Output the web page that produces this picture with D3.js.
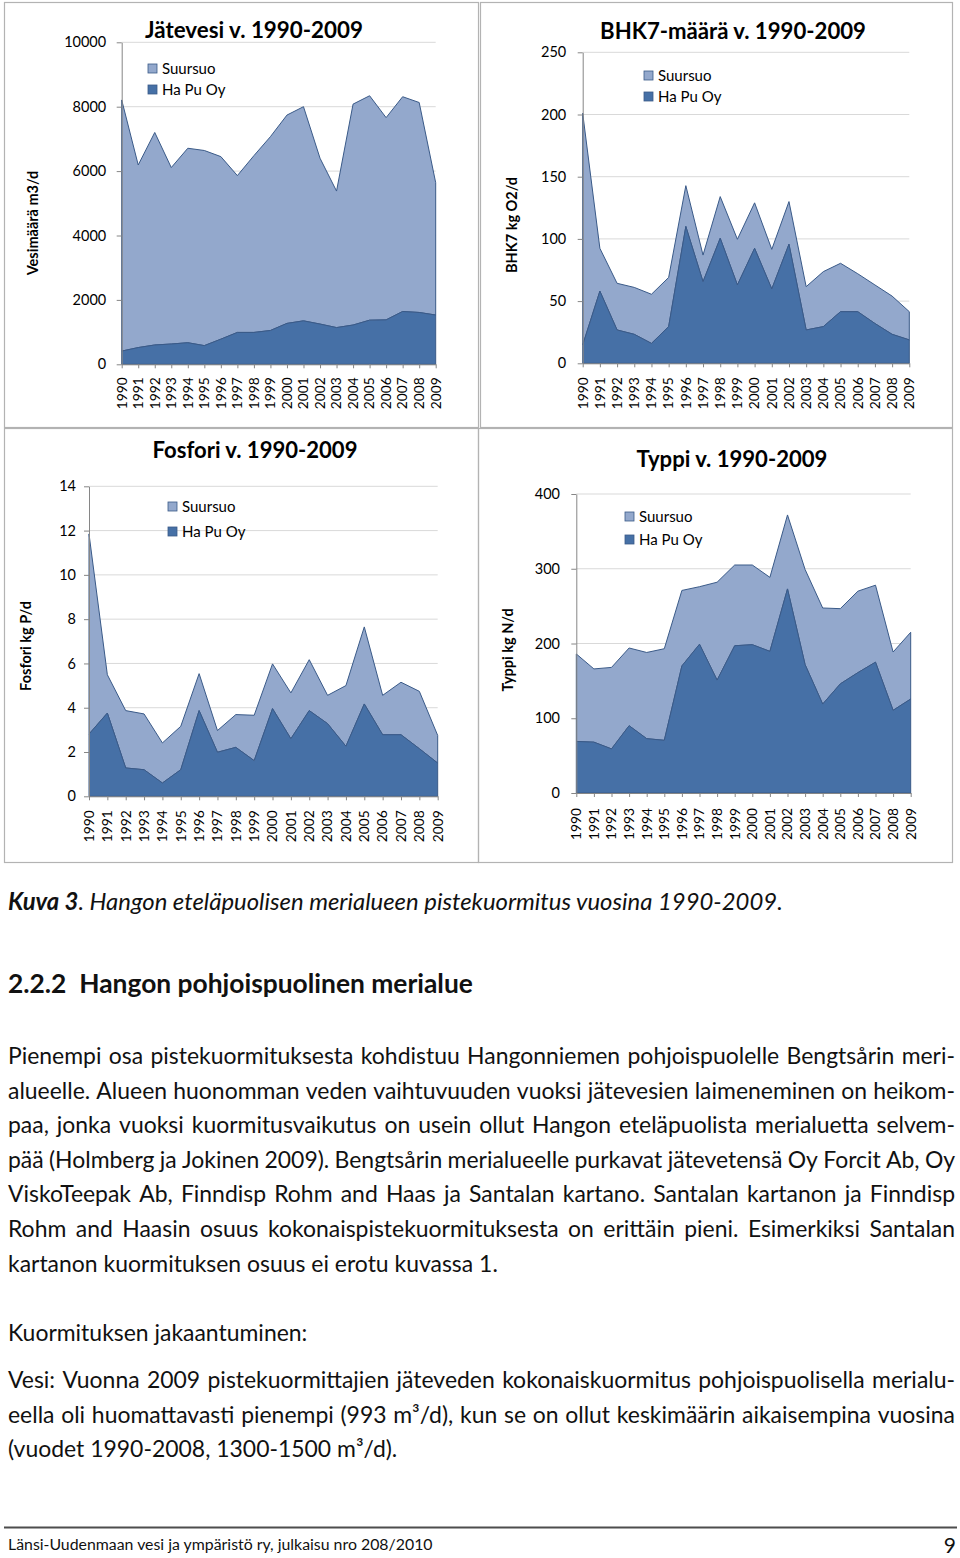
<!DOCTYPE html>
<html><head><meta charset="utf-8">
<script src="https://cdn.jsdelivr.net/npm/d3@7"></script>
<style>
body{margin:0;background:#fff}
svg{display:block}
text{font-family:Lato,"Open Sans",sans-serif}
</style>
</head><body>
<svg id="page" width="960" height="1558"></svg>
<script>
// ---------- DATA ----------
const years = ["1990","1991","1992","1993","1994","1995","1996","1997","1998","1999",
               "2000","2001","2002","2003","2004","2005","2006","2007","2008","2009"];
const seriesNames = ["Suursuo", "Ha Pu Oy"];

// Jätevesi m3/d
const waterHaPu    = [410,520,600,630,670,580,780,990,990,1050,1270,1350,1250,1140,1220,1370,1380,1640,1610,1530];
const waterSuursuo = [7800,5670,6600,5480,6040,6060,5670,4870,5490,6020,6470,6650,5150,4240,6860,6970,6280,6670,6520,4110];
const waterTicks   = [0,2000,4000,6000,8000,10000];

// BHK7 kg O2/d
const bodHaPu    = [14.7,58,26.8,23.3,16,29.5,110,65.6,100.5,63,92.4,59.8,95.7,26.8,29.5,41.5,41.5,32,23.3,18.8];
const bodSuursuo = [186.3,34.4,37.5,37.7,39.5,39.5,32.8,21.4,33.5,36.7,36.6,31.8,34.3,34.8,44.2,38.9,30.5,31,30.7,22.7];
const bodTicks   = [0,50,100,150,200,250];

// Fosfori kg P/d
const phosHaPu    = [2.81,3.76,1.28,1.2,0.6,1.2,3.87,1.99,2.21,1.61,3.96,2.6,3.87,3.28,2.26,4.17,2.78,2.78,2.15,1.5];
const phosSuursuo = [9.04,1.73,2.59,2.52,1.81,1.96,1.67,0.98,1.48,2.05,2.02,2.07,2.30,1.28,2.74,3.48,1.78,2.37,2.59,1.25];
const phosTicks   = [0,2,4,6,8,10,12,14];

// Typpi kg N/d
const nitHaPu    = [69,68,59,90,72.7,70.5,170,199,151,197,198.4,189.5,273,171.7,119,146,161,175,110.6,125.7];
const nitSuursuo = [117,98,109,104,115.3,122.5,101,77,131,108,106.6,99,99,127.3,128.5,100.6,109,103,78,89.3];
const nitTicks   = [0,100,200,300,400];

const titles  = ["Jätevesi v. 1990-2009","BHK7-määrä v. 1990-2009","Fosfori v. 1990-2009","Typpi v. 1990-2009"];
const yLabels = ["Vesimäärä m3/d","BHK7 kg O2/d","Fosfori kg P/d","Typpi kg N/d"];

const caption = ["Kuva 3", ". Hangon eteläpuolisen merialueen pistekuormitus vuosina 1990-2009."];
const heading = "2.2.2  Hangon pohjoispuolinen merialue";
const para1 = [
 "Pienempi osa pistekuormituksesta kohdistuu Hangonniemen pohjoispuolelle Bengtsårin meri-",
 "alueelle. Alueen huonomman veden vaihtuvuuden vuoksi jätevesien laimeneminen on heikom-",
 "paa, jonka vuoksi kuormitusvaikutus on usein ollut Hangon eteläpuolista merialuetta selvem-",
 "pää (Holmberg ja Jokinen 2009). Bengtsårin merialueelle purkavat jätevetensä Oy Forcit Ab, Oy",
 "ViskoTeepak Ab, Finndisp Rohm and Haas ja Santalan kartano. Santalan kartanon ja Finndisp",
 "Rohm and Haasin osuus kokonaispistekuormituksesta on erittäin pieni. Esimerkiksi Santalan",
 "kartanon kuormituksen osuus ei erotu kuvassa 1."
];
const subHead = "Kuormituksen jakaantuminen:";
const para2 = [
 "Vesi: Vuonna 2009 pistekuormittajien jäteveden kokonaiskuormitus pohjoispuolisella merialu-",
 "eella oli huomattavasti pienempi (993 m³/d), kun se on ollut keskimäärin aikaisempina vuosina",
 "(vuodet 1990-2008, 1300-1500 m³/d)."
];
const footer = "Länsi-Uudenmaan vesi ja ympäristö ry, julkaisu nro 208/2010";
const pageNo = "9";

// ---------- LAYOUT ----------
const COL_LIGHT = "#93a8cc", COL_DARK = "#4670a6", COL_EDGE = "#3a5a88";
const svg = d3.select("#page");
svg.append("rect").attr("width",960).attr("height",1558).attr("fill","#fff");

const frames = [
  {x:4.5,y:2.5,w:474,h:425},
  {x:480.5,y:2.5,w:472,h:425},
  {x:4.5,y:428.5,w:474,h:434},
  {x:478.5,y:428.5,w:474,h:434}
];
frames.forEach(f => svg.append("rect").attr("x",f.x).attr("y",f.y).attr("width",f.w).attr("height",f.h)
  .attr("fill","none").attr("stroke","#b3b3b3").attr("stroke-width",1.2));

const layouts = [
  {x0:121.7,x1:435.7,yT:42.3,yB:364.3,gap:15.5,tx:254,ty:38,tw:218,lx:33,ly:223,sx:148,sy:64,sd:21,yr:13},
  {x0:582.7,x1:909.3,yT:52.3,yB:363.3,gap:16.5,tx:733,ty:39,tw:266,lx:512,ly:225,sx:644,sy:71,sd:21,yr:14},
  {x0:89,  x1:437.7,yT:486.3,yB:796.3,gap:13,tx:255,ty:458,tw:205,lx:26,ly:646,sx:168,sy:502,sd:25,yr:14},
  {x0:576.3,x1:910.7,yT:494,yB:793,gap:16.3,tx:732,ty:467,tw:191,lx:508,ly:650,sx:625,sy:512,sd:23,yr:15}
];
const dataSets = [
  {haPu:waterHaPu,suursuo:waterSuursuo,ticks:waterTicks},
  {haPu:bodHaPu,suursuo:bodSuursuo,ticks:bodTicks},
  {haPu:phosHaPu,suursuo:phosSuursuo,ticks:phosTicks},
  {haPu:nitHaPu,suursuo:nitSuursuo,ticks:nitTicks}
];

function fitFont(sel, target, start){
  sel.attr("font-size", start);
  const w = sel.node().getComputedTextLength();
  const fs = start*target/w;
  sel.attr("font-size", fs);
  return fs;
}

dataSets.forEach((ds, ci) => {
  const L = layouts[ci];
  const g = svg.append("g");
  const x = d3.scalePoint(years, [L.x0, L.x1]);
  const y = d3.scaleLinear([0, d3.max(ds.ticks)], [L.yB, L.yT]);
  const rows = years.map((yr,i)=>({year:yr, haPu:ds.haPu[i], suursuo:ds.suursuo[i]}));
  const stacked = d3.stack().keys(["haPu","suursuo"])(rows);

  // gridlines
  g.append("g").selectAll("line").data(ds.ticks.filter(t=>t>0)).join("line")
    .attr("x1",L.x0).attr("x2",L.x1).attr("y1",d=>y(d)).attr("y2",d=>y(d))
    .attr("stroke","#d9d9d9").attr("stroke-width",1);

  const area = d3.area().x(d=>x(d.data.year)).y0(d=>y(d[0])).y1(d=>y(d[1]));
  const fills = {haPu:COL_DARK, suursuo:COL_LIGHT};
  [stacked[1], stacked[0]].forEach(s => {
    g.append("path").datum(s).attr("d",area).attr("fill",fills[s.key])
      .attr("stroke",COL_EDGE).attr("stroke-width",1).attr("stroke-linejoin","round");
  });

  // y axis
  const ya = g.append("g").attr("transform",`translate(${L.x0},0)`)
    .call(d3.axisLeft(y).tickValues(ds.ticks).tickFormat(d3.format("d"))
      .tickSize(5).tickPadding(L.gap-5).tickSizeOuter(0));
  ya.select(".domain").attr("stroke","#868686");
  ya.selectAll(".tick line").attr("stroke","#868686");
  ya.selectAll(".tick text").attr("font-size",14.5).attr("fill","#000")
    .style("font-family","Lato,'Open Sans',sans-serif");

  // x axis
  const xa = g.append("g").attr("transform",`translate(0,${L.yB})`)
    .call(d3.axisBottom(x).tickSize(4).tickFormat("").tickSizeOuter(0));
  xa.select(".domain").attr("stroke","#868686");
  xa.selectAll(".tick line").attr("stroke","#868686");
  g.append("g").selectAll("text").data(years).join("text")
    .attr("transform",d=>`translate(${x(d)},${L.yB+L.yr}) rotate(-90)`)
    .attr("text-anchor","end").attr("dy","0.35em").attr("font-size",13.8).attr("fill","#000")
    .text(d=>d);

  // title
  const t = g.append("text").attr("x",L.tx).attr("y",L.ty).attr("text-anchor","middle")
    .attr("font-weight",700).attr("fill","#000").text(titles[ci]);
  fitFont(t, L.tw, 20);

  // y label
  g.append("text").attr("transform",`translate(${L.lx},${L.ly}) rotate(-90)`)
    .attr("text-anchor","middle").attr("dy","0.35em").attr("font-weight",700)
    .attr("font-size",14.5).attr("fill","#000").text(yLabels[ci]);

  // legend
  const lg = g.append("g");
  [COL_LIGHT, COL_DARK].forEach((c,i)=>{
    lg.append("rect").attr("x",L.sx).attr("y",L.sy+i*L.sd).attr("width",9).attr("height",9)
      .attr("fill",c).attr("stroke",COL_EDGE).attr("stroke-width",0.8);
    lg.append("text").attr("x",L.sx+14).attr("y",L.sy+i*L.sd+4.5).attr("dy","0.35em")
      .attr("font-size",15).attr("fill","#000").text(seriesNames[i]);
  });
});

// ---------- BODY TEXT ----------
const tg = svg.append("g").attr("fill","#111");
const LEFT = 8;

const cap = tg.append("text").attr("x",LEFT).attr("y",910).attr("font-style","italic");
cap.append("tspan").attr("font-weight",700).text(caption[0]);
cap.append("tspan").text(caption[1]);
fitFont(cap, 775, 21);

const hd = tg.append("text").attr("x",LEFT).attr("y",993).attr("font-weight",700)
  .style("white-space","pre").text(heading);
fitFont(hd, 465, 22);

// paragraph font size from an unjustified line
const probe = tg.append("text").text(para1[6]);
const bodyFs = fitFont(probe, 490, 20);
probe.remove();

function drawLine(str, y, justify){
  const t = tg.append("text").attr("y",y).attr("font-size",bodyFs);
  if(!justify){ t.attr("x",LEFT).text(str); return t; }
  const words = str.split(" ");
  const ws = words.map(w => {
    const tmp = tg.append("text").attr("font-size",bodyFs).text(w);
    const l = tmp.node().getComputedTextLength(); tmp.remove(); return l;
  });
  const gap = (955 - LEFT - d3.sum(ws))/(words.length-1);
  let cx = LEFT;
  words.forEach((w,i)=>{ t.append("tspan").attr("x",cx).text(w); cx += ws[i]+gap; });
  return t;
}
para1.forEach((s,i)=>drawLine(s, 1064 + i*34.6, i<6));
drawLine(subHead, 1341, false);
para2.forEach((s,i)=>drawLine(s, 1388 + i*34.6, i<2));

// footer
svg.append("line").attr("x1",4).attr("x2",957).attr("y1",1527.5).attr("y2",1527.5)
  .attr("stroke","#4d4d4d").attr("stroke-width",2);
const ft = svg.append("text").attr("x",LEFT).attr("y",1550).attr("fill","#111").text(footer);
fitFont(ft, 425, 16);
svg.append("text").attr("x",956).attr("y",1553).attr("text-anchor","end").attr("font-size",21)
  .attr("fill","#111").text(pageNo);
</script>
</body></html>
